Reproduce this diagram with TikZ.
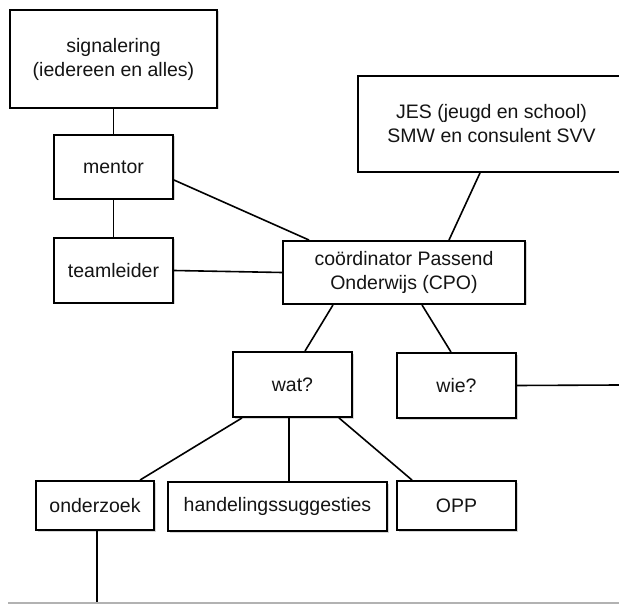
\documentclass[tikz,border=0pt]{standalone}
\usepackage{fontspec}
\setmainfont{Liberation Sans}
\usepackage{tikz}
\usetikzlibrary{shadows}
\definecolor{boxshadow}{rgb}{.8,.8,.8}
\definecolor{textgray}{rgb}{.08,.08,.08}

\begin{document}
\begin{tikzpicture}[x=1pt,y=-1pt]

\tikzset{
box/.style={rectangle,draw=black,line width=1.9pt,fill=white,inner sep=2pt,align=center,text=textgray,
  font=\fontsize{19.5pt}{24pt}\selectfont,
  drop shadow={shadow xshift=1.5pt,shadow yshift=-1.5pt,fill=boxshadow,opacity=.8}},
link/.style={line width=1.6pt,black}
}

\useasboundingbox (0,0) rectangle (619,604);

\node[box,minimum width=207pt,minimum height=98pt] (signalering) at (113.5,59) {signalering\\(iedereen en alles)};
\node[box,minimum width=119pt,minimum height=64pt] (mentor) at (113.5,167) {mentor};
\node[box,minimum width=119pt,minimum height=65pt] (teamleider) at (113.5,270.5) {teamleider};
\node[box,minimum width=267pt,minimum height=96pt] (jes) at (491.5,124) {JES (jeugd en school)\\SMW en consulent SVV};
\node[box,minimum width=242pt,minimum height=63pt] (cpo) at (404,272.5) {coördinator Passend\\Onderwijs (CPO)};
\node[box,minimum width=119pt,minimum height=65pt] (wat) at (292.5,384.5) {wat?};
\node[box,minimum width=119pt,minimum height=65pt] (wie) at (456.5,385.5) {wie?};
\node[box,minimum width=118pt,minimum height=49pt] (onderzoek) at (95,505.5) {onderzoek};
\node[box,minimum width=219pt,minimum height=49pt] (handelingssuggesties) at (277.5,506.5) {handelingssuggesties};
\node[box,minimum width=119pt,minimum height=49pt] (opp) at (456.5,505.5) {OPP};

\coordinate (wie-end) at (619,385);
\coordinate (onderzoek-end) at (97,603);
\coordinate (bottom-left) at (8,603);
\coordinate (bottom-right) at (619,603);

\draw[link] (signalering.south)--(mentor.north);
\draw[link] (mentor.south)--(teamleider.north);
\draw[link] ([yshift=-13pt]mentor.east)--([xshift=27pt]cpo.north west);
\draw[link] (teamleider.east)--(cpo.west);
\draw[link] ([xshift=-11.5pt]jes.south)--([xshift=45pt]cpo.north);
\draw[link] ([xshift=-71pt]cpo.south)--([xshift=12.5pt]wat.north);
\draw[link] ([xshift=18pt]cpo.south)--([xshift=-5.5pt]wie.north);
\draw[link] (wie.east)--(wie-end);
\draw[link] ([xshift=-50.5pt]wat.south)--([xshift=45pt]onderzoek.north);
\draw[link] ([xshift=-3.5pt]wat.south)--([xshift=-3.5pt]wat.south |- handelingssuggesties.north);
\draw[link] ([xshift=46.5pt]wat.south)--([xshift=-44.5pt]opp.north);
\draw[link] ([xshift=2pt]onderzoek.south)--(onderzoek-end);

\draw[line width=1.3pt,gray!60] (bottom-left)--(bottom-right);

\end{tikzpicture}
\end{document}
